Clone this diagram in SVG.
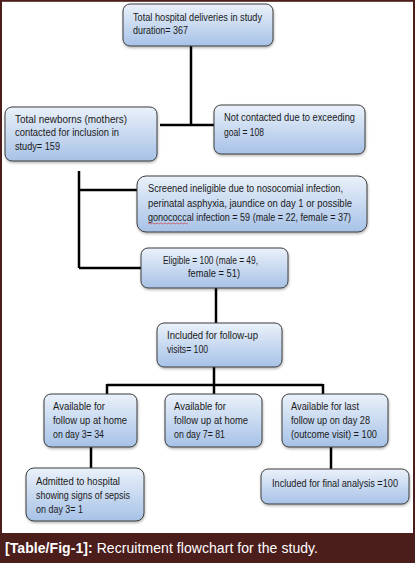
<svg xmlns="http://www.w3.org/2000/svg" width="415" height="563" viewBox="0 0 415 563">
<defs>
<linearGradient id="g" x1="0" y1="0" x2="0" y2="1">
<stop offset="0" stop-color="#eaf1fa"/>
<stop offset="1" stop-color="#a7c2e7"/>
</linearGradient>
<filter id="sh" x="-10%" y="-10%" width="125%" height="135%">
<feDropShadow dx="0.5" dy="1.5" stdDeviation="1" flood-color="#000" flood-opacity="0.3"/>
</filter>
<style>
.box{fill:url(#g);stroke:#3c3c3c;stroke-width:1;filter:url(#sh)}
.t{font-family:"Liberation Sans",Arial,sans-serif;font-size:10px;fill:#1a1a1a}
.c{fill:none;stroke:#000;stroke-width:2.5}
.cap{font-family:"Liberation Sans",Arial,sans-serif;font-size:14px;fill:#fff}
</style>
</defs>
<rect x="0" y="0" width="415" height="563" fill="#fff"/>
<rect x="1" y="0.8" width="413" height="540" fill="none" stroke="#4b1d1b" stroke-width="2"/>
<rect x="0" y="533" width="415" height="30" fill="#4b1d1b"/>
<text class="cap" x="5" y="553" textLength="313"><tspan font-weight="bold">[Table/Fig-1]:</tspan> Recruitment flowchart for the study.</text>

<g id="connectors">
<path class="c" d="M191 46V125M160 125H214"/>
<path class="c" d="M79 171V268M79 190H137M79 268H141"/>
<path class="c" d="M216 288V323"/>
<path class="c" d="M214 367V385M107 385H323M107 384V394M214 384V394M323 384V394"/>
<path class="c" d="M91 447V468"/>
<path class="c" d="M331 447V469"/>
</g>

<g id="n1"><rect class="box" x="123" y="4" width="150" height="42" rx="7"/>
<text class="t" x="133" y="20.5" textLength="129" lengthAdjust="spacingAndGlyphs">Total hospital deliveries in study</text>
<text class="t" x="133" y="33.5" textLength="55" lengthAdjust="spacingAndGlyphs">duration= 367</text></g>

<g id="n2"><rect class="box" x="5" y="107" width="152" height="54" rx="7"/>
<text class="t" x="15" y="122.5" textLength="112" lengthAdjust="spacingAndGlyphs">Total newborns (mothers)</text>
<text class="t" x="15" y="136" textLength="104" lengthAdjust="spacingAndGlyphs">contacted for inclusion in</text>
<text class="t" x="15" y="149.5" textLength="45" lengthAdjust="spacingAndGlyphs">study= 159</text></g>

<g id="n3"><rect class="box" x="214" y="105" width="151" height="49" rx="7"/>
<text class="t" x="224" y="121" textLength="131" lengthAdjust="spacingAndGlyphs">Not contacted due to exceeding</text>
<text class="t" x="224" y="135.5" textLength="40" lengthAdjust="spacingAndGlyphs">goal = 108</text></g>

<g id="n4"><rect class="box" x="137" y="176" width="230" height="56" rx="9"/>
<text class="t" x="148" y="192" textLength="195" lengthAdjust="spacingAndGlyphs">Screened ineligible due to nosocomial infection,</text>
<text class="t" x="148" y="206.5" textLength="204" lengthAdjust="spacingAndGlyphs">perinatal asphyxia, jaundice on day 1 or possible</text>
<text class="t" x="148" y="220.5" textLength="203" lengthAdjust="spacingAndGlyphs">gonococcal infection = 59 (male = 22, female = 37)</text>
<path d="M148 223.5q1 -1 2 0t2 0t2 0t2 0t2 0t2 0t2 0t2 0t2 0t2 0t2 0t2 0t2 0t2 0t2 0t2 0t2 0t2 0t2 0t2 0" fill="none" stroke="#d03030" stroke-width="0.6"/></g>

<g id="n5"><rect class="box" x="141" y="248" width="147" height="40" rx="7"/>
<text class="t" x="210.5" y="263.5" text-anchor="middle" textLength="95" lengthAdjust="spacingAndGlyphs">Eligible = 100 (male = 49,</text>
<text class="t" x="214" y="276.5" text-anchor="middle" textLength="52" lengthAdjust="spacingAndGlyphs">female = 51)</text></g>

<g id="n6"><rect class="box" x="157" y="323" width="125" height="44" rx="7"/>
<text class="t" x="167" y="338.5" textLength="91" lengthAdjust="spacingAndGlyphs">Included for follow-up</text>
<text class="t" x="167" y="352.5" textLength="41" lengthAdjust="spacingAndGlyphs">visits= 100</text></g>

<g id="n7"><rect class="box" x="44" y="394" width="93" height="53" rx="7"/>
<text class="t" x="53" y="409.5" textLength="52" lengthAdjust="spacingAndGlyphs">Available for</text>
<text class="t" x="53" y="423.5" textLength="74" lengthAdjust="spacingAndGlyphs">follow up at home</text>
<text class="t" x="53" y="437.5" textLength="51" lengthAdjust="spacingAndGlyphs">on day 3= 34</text></g>

<g id="n8"><rect class="box" x="165" y="394" width="97" height="53" rx="7"/>
<text class="t" x="174" y="409.5" textLength="52" lengthAdjust="spacingAndGlyphs">Available for</text>
<text class="t" x="174" y="423.5" textLength="74" lengthAdjust="spacingAndGlyphs">follow up at home</text>
<text class="t" x="174" y="437.5" textLength="51" lengthAdjust="spacingAndGlyphs">on day 7= 81</text></g>

<g id="n9"><rect class="box" x="282" y="394" width="106" height="53" rx="7"/>
<text class="t" x="291" y="409.5" textLength="68" lengthAdjust="spacingAndGlyphs">Available for last</text>
<text class="t" x="291" y="423.5" textLength="79" lengthAdjust="spacingAndGlyphs">follow up on day 28</text>
<text class="t" x="291" y="437.5" textLength="86" lengthAdjust="spacingAndGlyphs">(outcome visit) = 100</text></g>

<g id="n10"><rect class="box" x="26" y="468" width="118" height="53" rx="8"/>
<text class="t" x="36" y="484.5" textLength="84" lengthAdjust="spacingAndGlyphs">Admitted to hospital</text>
<text class="t" x="36" y="498.5" textLength="94" lengthAdjust="spacingAndGlyphs">showing signs of sepsis</text>
<text class="t" x="36" y="512.5" textLength="47" lengthAdjust="spacingAndGlyphs">on day 3= 1</text></g>

<g id="n11"><rect class="box" x="261" y="469" width="148" height="35" rx="7"/>
<text class="t" x="272" y="486.5" textLength="126" lengthAdjust="spacingAndGlyphs">Included for final analysis =100</text></g>
</svg>
